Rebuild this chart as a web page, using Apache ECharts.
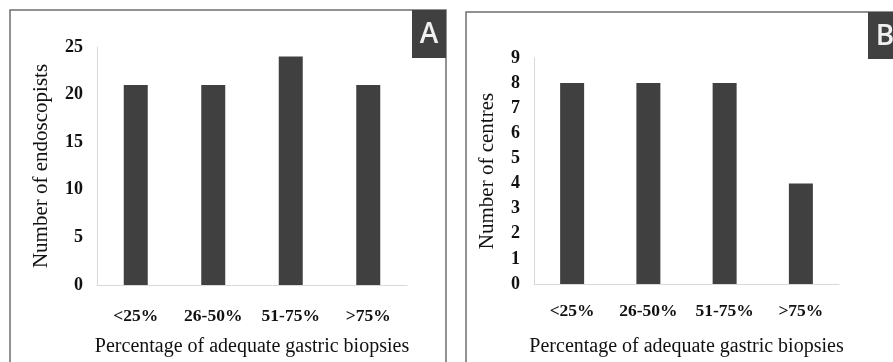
<!DOCTYPE html>
<html><head><meta charset="utf-8">
<script src="https://cdn.jsdelivr.net/npm/echarts@6/dist/echarts.min.js"></script>
<style>html,body{margin:0;padding:0;background:#fff}#c{width:893px;height:362px}</style>
</head><body><div id="c"></div>
<script>
const categories = ['<25%', '26-50%', '51-75%', '>75%'];
const endoscopists = [21, 21, 24, 21];
const centres = [8, 8, 8, 4];
const xTitle = 'Percentage of adequate gastric biopsies';
const yTitleA = 'Number of endoscopists';
const yTitleB = 'Number of centres';

const serif = '"Liberation Serif", "Times New Roman", serif';
const barColor = '#404040';
const axisColor = '#d9d9d9';

function xAxis(gridIndex, gap, margin) {
  return {
    type: 'category', gridIndex, data: categories,
    axisLine: {lineStyle: {color: axisColor, width: 1}},
    axisTick: {show: false},
    axisLabel: {fontFamily: serif, fontWeight: 'bold', fontSize: 17.5, color: '#111', margin},
    name: xTitle, nameLocation: 'middle', nameGap: gap,
    nameTextStyle: {fontFamily: serif, fontSize: 20, color: '#111'}
  };
}
function yAxis(gridIndex, max, interval, name, gap) {
  return {
    type: 'value', gridIndex, min: 0, max, interval,
    axisLine: {show: true, lineStyle: {color: axisColor, width: 1}},
    axisTick: {show: false}, splitLine: {show: false},
    axisLabel: {fontFamily: serif, fontWeight: 'bold', fontSize: 18, color: '#111', margin: 14},
    name, nameLocation: 'middle', nameGap: gap,
    nameTextStyle: {fontFamily: serif, fontSize: 21, color: '#111'}
  };
}

const chart = echarts.init(document.getElementById('c'));
chart.setOption({
  animation: false,
  grid: [
    {left: 97, top: 47, width: 310, height: 239},
    {left: 534, top: 58, width: 305, height: 234}
  ],
  xAxis: [xAxis(0, 52, 22), xAxis(1, 53, 18)],
  yAxis: [yAxis(0, 25, 5, yTitleA, 45), yAxis(1, 9, 1, yTitleB, 36)],
  series: [
    {type: 'bar', xAxisIndex: 0, yAxisIndex: 0, data: endoscopists, barWidth: 24, itemStyle: {color: barColor}},
    {type: 'bar', xAxisIndex: 1, yAxisIndex: 1, data: centres, barWidth: 24, itemStyle: {color: barColor}}
  ],
  graphic: [
    {type: 'rect', shape: {x: 10, y: 10, width: 436, height: 370}, style: {fill: 'none', stroke: '#6e6e6e', lineWidth: 1.5}, silent: true},
    {type: 'rect', shape: {x: 466, y: 12, width: 440, height: 370}, style: {fill: 'none', stroke: '#6e6e6e', lineWidth: 1.5}, silent: true},
    {type: 'rect', shape: {x: 412, y: 10, width: 34, height: 48}, style: {fill: '#404040'}},
    {type: 'text', x: 429, y: 35, style: {text: 'A', fill: '#f0f0f0', font: '600 28px "Open Sans", "Noto Sans", sans-serif', textAlign: 'center', textVerticalAlign: 'middle'}},
    {type: 'rect', shape: {x: 868, y: 12, width: 30, height: 47}, style: {fill: '#404040'}},
    {type: 'text', x: 885, y: 37, style: {text: 'B', fill: '#f0f0f0', font: '600 28px "Open Sans", "Noto Sans", sans-serif', textAlign: 'center', textVerticalAlign: 'middle'}}
  ]
});
</script></body></html>
